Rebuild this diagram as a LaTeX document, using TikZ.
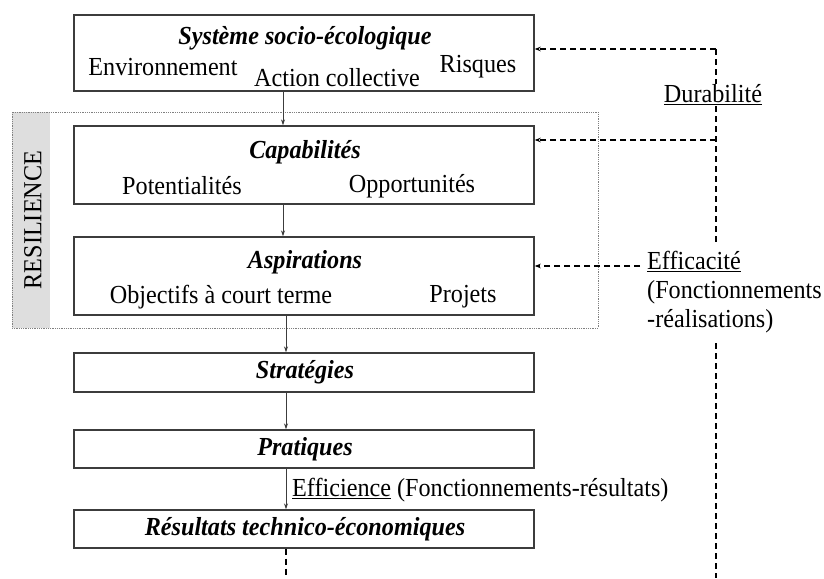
\documentclass[tikz,border=0pt]{standalone}
\usepackage{fontspec}
\setmainfont[FakeStretch=0.93]{Liberation Serif}
\usetikzlibrary{arrows.meta, positioning}
\definecolor{linegray}{RGB}{60,60,60}
\definecolor{bandgray}{RGB}{222,222,222}
\tikzset{
  bigbox/.style={draw=linegray, line width=1.4pt, minimum width=460pt, inner sep=0pt},
  title/.style={font=\fontsize{26}{30}\selectfont\bfseries\itshape},
  plain/.style={font=\fontsize{26}{29}\selectfont, inner sep=1pt},
  arr/.style={draw=linegray, line width=0.9pt, -{Stealth[length=6pt,width=4pt]}},
  dasharr/.style={draw=black, line width=1.1pt, dash pattern=on 6pt off 4pt, -{Stealth[length=6pt,width=4.5pt]}},
  dashline/.style={draw=black, line width=1.1pt, dash pattern=on 6pt off 4pt}
}
\begin{document}
\begin{tikzpicture}[x=1pt, y=-1pt]
     \useasboundingbox (0,0) rectangle (824,578);
     %resilience frame
     \fill[bandgray] (12,112) rectangle (50,328);
     \draw[gray, densely dotted, line width=0.8pt] (12,112) rectangle (598,328);
     \node[plain, rotate=90] (res) at (33,220) {RESILIENCE};
     %row 1
     \node[bigbox, minimum height=76pt] (sse) at (304,53) {};
     \node[title] (ssetitle) at (305,38) {Système socio-écologique};
     \node[plain] (env) at (163,67) {Environnement};
     \node[plain] (act) at (337,78) {Action collective};
     \node[plain] (risk) at (478,67) {Risques};
     %row 2
     \node[bigbox, minimum height=78pt] (cap) at (304,165) {};
     \node[title] (captitle) at (305,152) {Capabilités};
     \node[plain] (pot) at (182,186) {Potentialités};
     \node[plain] (opp) at (412,186) {Opportunités};
     %row 3
     \node[bigbox, minimum height=78pt] (asp) at (304,276) {};
     \node[title] (asptitle) at (305,262) {Aspirations};
     \node[plain] (obj) at (221,297) {Objectifs à court terme};
     \node[plain] (proj) at (463,297) {Projets};
     %rows 4-6
     \node[bigbox, minimum height=39pt] (strat) at (304,372.5) {};
     \node[title] at (strat.center -| 305,0) {Stratégies};
     \node[bigbox, minimum height=38pt] (prat) at (304,449) {};
     \node[title] at (prat.center -| 305,0) {Pratiques};
     \node[bigbox, minimum height=38pt] (resu) at (304,529) {};
     \node[title] at (resu.center -| 305,0) {Résultats technico-économiques};
     %arrows down
     \draw[arr] ([xshift=-21pt]sse.south) -- ([xshift=-21pt]cap.north);
     \draw[arr] ([xshift=-21pt]cap.south) -- ([xshift=-21pt]asp.north);
     \draw[arr] ([xshift=-18pt]asp.south) -- ([xshift=-18pt]strat.north);
     \draw[arr] ([xshift=-18pt]strat.south) -- ([xshift=-18pt]prat.north);
     \draw[arr] ([xshift=-18pt]prat.south) -- ([xshift=-18pt]resu.north);
     \node[plain, anchor=west] (effi) at (291,490) {\underline{Efficience} (Fonctionnements-résultats)};
     %feedback loops
     \coordinate (d0) at (716,49);
     \coordinate (d1) at (716,140);
     \coordinate (d2) at (716,243);
     \coordinate (d3) at (716,343);
     \coordinate (d4) at (716,578);
     \coordinate (e0) at (640,266);
     \coordinate (b0) at (286,578);
     \node[plain] (dur) at (713,95) {\underline{Durabilité}};
     \node[plain, align=left, anchor=north west] (eff) at (646,250)
          {\underline{Efficacité}\\(Fonctionnements\\-réalisations)};
     \draw[dasharr] (d0) -- (d0 -| sse.east);
     \draw[dashline] (d0) -- (dur.north -| d0);
     \draw[dashline] (dur.south -| d0) -- (d2);
     \draw[dasharr] (d1) -- (d1 -| cap.east);
     \draw[dasharr] (e0) -- (e0 -| asp.east);
     \draw[dashline] (d3) -- (d4);
     \draw[dashline] ([xshift=-18pt]resu.south) -- (b0);
\end{tikzpicture}
\end{document}
